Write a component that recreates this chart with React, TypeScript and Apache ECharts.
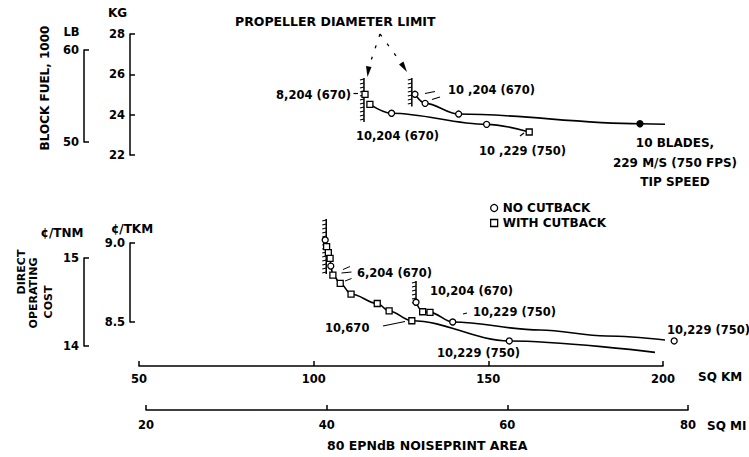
import React, { useEffect, useRef } from "react";
import * as echarts from "echarts";

// ---------- data ----------
// Block fuel panel (x: noiseprint area, sq km; y: block fuel, 1000 kg)
const fuelUpperKm = [129.0, 131.9, 141.5, 193.4, 218.3];
const fuelUpperKg = [25.01, 24.56, 24.03, 23.55, 23.37];
const fuelUpperMark = ["o", "o", "o", "f", ""];
const fuelLowerKm = [116.1, 122.3, 149.5, 161.7];
const fuelLowerKg = [24.51, 24.07, 23.52, 23.14];
const fuelLowerMark = ["s", "o", "o", "s"];
const fuelSingleKm = [114.7];
const fuelSingleKg = [25.01];
const fuelSingleMark = ["s"];
const fuelLimitKm = [114.4, 128.1];
const fuelLimitTop = [25.82, 25.82];
const fuelLimitBottom = [23.64, 24.4];

// Direct operating cost panel (y: cents / TKM)
const docUpperKm = [129.3, 131.2, 133.3, 139.8, 164.8, 183.8, 203.2];
const docUpperVal = [8.625, 8.565, 8.561, 8.5, 8.449, 8.411, 8.38];
const docUpperMark = ["o", "s", "s", "o", "", "", "o"];
const docLowerKm = [103.3, 103.7, 104.2, 104.7, 104.9, 105.5, 107.6, 110.7, 118.2, 121.6, 128.1, 156.0, 197.7];
const docLowerVal = [9.019, 8.977, 8.939, 8.903, 8.854, 8.797, 8.745, 8.677, 8.617, 8.57, 8.508, 8.38, 8.308];
const docLowerMark = ["o", "s", "s", "s", "o", "s", "s", "s", "s", "s", "s", "o", ""];
const docLimitKm = [103.6, 129.3];
const docLimitTop = [9.152, 8.759];
const docLimitBottom = [8.804, 8.614];

// Axis scales
const kmTicks = [50, 200, 50];
const miTicks = [20, 80, 20];
const kgTicks = [22, 28, 2];
const lbTicks = [50, 60, 10];
const tkmTicks = [8.5, 9.0, 0.5];
const tnmTicks = [14, 15, 1];

const FONT = "DejaVu Sans";

const pts = (xs: number[], ys: number[]) => xs.map((x, i) => [x, ys[i]]);
const pick = (xs: number[], ys: number[], marks: string[], m: string) =>
  xs.map((x, i) => (marks[i] === m ? [x, ys[i]] : null)).filter(Boolean);

const axisBase: any = {
  type: "value",
  axisLine: { show: true, lineStyle: { color: "#000", width: 1.5 } },
  axisTick: { show: true, inside: true, length: 5, lineStyle: { color: "#000", width: 1.5 } },
  splitLine: { show: false },
};
const lbl = (margin: number, extra: any = {}) => ({
  color: "#000",
  fontSize: 11.5,
  fontWeight: "bold",
  fontFamily: FONT,
  margin,
  ...extra,
});

const T = (text: string, x: number, y: number, o: any = {}) => ({
  type: "text",
  x,
  y,
  rotation: o.rot || 0,
  silent: true,
  style: {
    text,
    fill: "#000",
    fontSize: o.size || 11.5,
    fontWeight: "bold",
    fontFamily: FONT,
    align: o.align || "left",
    verticalAlign: "middle",
  },
});
const L = (x1: number, y1: number, x2: number, y2: number, w = 1.2, dash?: number[]) => ({
  type: "line",
  silent: true,
  shape: { x1, y1, x2, y2 },
  style: { stroke: "#000", lineWidth: w, lineDash: dash },
});

const hatchRender = (params: any, api: any) => {
  const top = api.coord([api.value(0), api.value(1)]);
  const bot = api.coord([api.value(0), api.value(2)]);
  const children: any[] = [
    { type: "line", shape: { x1: top[0], y1: top[1], x2: bot[0], y2: bot[1] }, style: { stroke: "#000", lineWidth: 1.5 } },
  ];
  for (let y = top[1] + 1; y < bot[1] - 1; y += 4) {
    children.push({
      type: "line",
      shape: { x1: top[0] - 4, y1: y + 1, x2: top[0], y2: y },
      style: { stroke: "#000", lineWidth: 1.1 },
    });
  }
  return { type: "group", children };
};

const lineSeries = (name: string, xi: number, data: any[]) => ({
  name,
  type: "line",
  xAxisIndex: xi,
  yAxisIndex: xi,
  data,
  smooth: 0.35,
  smoothMonotone: "x",
  symbol: "none",
  clip: false,
  silent: true,
  lineStyle: { color: "#000", width: 1.6 },
});
const scatterSeries = (name: string, xi: number, symbol: string, data: any[], fill = "#fff") => ({
  name,
  type: "scatter",
  xAxisIndex: xi,
  yAxisIndex: xi,
  data,
  symbol,
  symbolSize: 6,
  clip: false,
  silent: true,
  z: 5,
  itemStyle: { color: fill, borderColor: "#000", borderWidth: 1.3, opacity: 1 },
});

const option: any = {
  animation: false,
  backgroundColor: "#fff",
  textStyle: { fontFamily: FONT },
  grid: [
    { left: 139, top: 34, width: 524, height: 121, outerBoundsMode: "none" },
    { left: 139, top: 50, width: 524, height: 92, outerBoundsMode: "none" },
    { left: 139, top: 243, width: 524, height: 79, outerBoundsMode: "none" },
    { left: 139, top: 258, width: 524, height: 88, outerBoundsMode: "none" },
    { left: 146, top: 400, width: 542, height: 10, outerBoundsMode: "none" },
  ],
  xAxis: [
    { gridIndex: 0, type: "value", min: kmTicks[0], max: kmTicks[1], show: false },
    { gridIndex: 1, type: "value", min: kmTicks[0], max: kmTicks[1], show: false },
    {
      ...axisBase,
      gridIndex: 2,
      min: kmTicks[0],
      max: kmTicks[1],
      interval: kmTicks[2],
      position: "bottom",
      offset: 44,
      axisLabel: lbl(7),
    },
    { gridIndex: 3, type: "value", min: kmTicks[0], max: kmTicks[1], show: false },
    {
      ...axisBase,
      gridIndex: 4,
      min: miTicks[0],
      max: miTicks[1],
      interval: miTicks[2],
      position: "bottom",
      axisLabel: lbl(9),
    },
  ],
  yAxis: [
    { ...axisBase, gridIndex: 0, min: kgTicks[0], max: kgTicks[1], interval: kgTicks[2], offset: 9, axisLabel: lbl(5) },
    { ...axisBase, gridIndex: 1, min: lbTicks[0], max: lbTicks[1], interval: lbTicks[2], offset: 55, axisLabel: lbl(5) },
    {
      ...axisBase,
      gridIndex: 2,
      min: tkmTicks[0],
      max: tkmTicks[1],
      interval: tkmTicks[2],
      offset: 9,
      axisLabel: lbl(5, { formatter: (v: number) => v.toFixed(1) }),
    },
    { ...axisBase, gridIndex: 3, min: tnmTicks[0], max: tnmTicks[1], interval: tnmTicks[2], offset: 55, axisLabel: lbl(5) },
    { gridIndex: 4, type: "value", min: 0, max: 1, show: false },
  ],
  legend: {
    data: [
      { name: "NO CUTBACK", icon: "circle" },
      { name: "WITH CUTBACK", icon: "rect" },
    ],
    orient: "vertical",
    left: 485,
    top: 197,
    itemWidth: 7,
    itemHeight: 7,
    itemGap: 3,
    selectedMode: false,
    itemStyle: { color: "#fff", borderColor: "#000", borderWidth: 1.3 },
    textStyle: { fontSize: 12, fontWeight: "bold", fontFamily: FONT, color: "#000" },
  },
  series: [
    lineSeries("fuel upper", 0, pts(fuelUpperKm, fuelUpperKg)),
    lineSeries("fuel lower", 0, pts(fuelLowerKm, fuelLowerKg)),
    lineSeries("doc upper", 2, pts(docUpperKm, docUpperVal)),
    lineSeries("doc lower", 2, pts(docLowerKm, docLowerVal)),
    {
      name: "propeller limit fuel",
      type: "custom",
      xAxisIndex: 0,
      yAxisIndex: 0,
      clip: false,
      silent: true,
      renderItem: hatchRender,
      data: fuelLimitKm.map((k, i) => [k, fuelLimitTop[i], fuelLimitBottom[i]]),
    },
    {
      name: "propeller limit doc",
      type: "custom",
      xAxisIndex: 2,
      yAxisIndex: 2,
      clip: false,
      silent: true,
      renderItem: hatchRender,
      data: docLimitKm.map((k, i) => [k, docLimitTop[i], docLimitBottom[i]]),
    },
    scatterSeries("NO CUTBACK", 0, "circle", [
      ...pick(fuelUpperKm, fuelUpperKg, fuelUpperMark, "o"),
      ...pick(fuelLowerKm, fuelLowerKg, fuelLowerMark, "o"),
      ...pick(fuelSingleKm, fuelSingleKg, fuelSingleMark, "o"),
    ]),
    scatterSeries("WITH CUTBACK", 0, "rect", [
      ...pick(fuelUpperKm, fuelUpperKg, fuelUpperMark, "s"),
      ...pick(fuelLowerKm, fuelLowerKg, fuelLowerMark, "s"),
      ...pick(fuelSingleKm, fuelSingleKg, fuelSingleMark, "s"),
    ]),
    scatterSeries("NO CUTBACK", 2, "circle", [
      ...pick(docUpperKm, docUpperVal, docUpperMark, "o"),
      ...pick(docLowerKm, docLowerVal, docLowerMark, "o"),
    ]),
    scatterSeries("WITH CUTBACK", 2, "rect", [
      ...pick(docUpperKm, docUpperVal, docUpperMark, "s"),
      ...pick(docLowerKm, docLowerVal, docLowerMark, "s"),
    ]),
    scatterSeries("10 BLADES", 0, "circle", pick(fuelUpperKm, fuelUpperKg, fuelUpperMark, "f"), "#000"),
    { name: "lb", type: "scatter", xAxisIndex: 1, yAxisIndex: 1, data: [] },
    { name: "tnm", type: "scatter", xAxisIndex: 3, yAxisIndex: 3, data: [] },
    { name: "mi", type: "scatter", xAxisIndex: 4, yAxisIndex: 4, data: [] },
  ],
  graphic: [
    // headings and axis titles
    T("PROPELLER DIAMETER LIMIT", 235, 21, { size: 12.5 }),
    T("KG", 117.5, 13, { size: 12, align: "center" }),
    T("LB", 71.5, 32, { size: 11.5, align: "center" }),
    T("BLOCK FUEL, 1000", 45, 88, { size: 12, align: "center", rot: Math.PI / 2 }),
    T("¢/TNM", 62, 233, { size: 12, align: "center" }),
    T("¢/TKM", 132, 229, { size: 12, align: "center" }),
    T("DIRECT", 21, 272, { size: 11, align: "center", rot: Math.PI / 2 }),
    T("OPERATING", 33.5, 293, { size: 11, align: "center", rot: Math.PI / 2 }),
    T("COST", 48, 302, { size: 11, align: "center", rot: Math.PI / 2 }),
    T("SQ KM", 698, 377, { size: 12 }),
    T("SQ MI", 707, 426, { size: 12 }),
    T("80 EPNdB NOISEPRINT AREA", 327, 445, { size: 12.5 }),
    // propeller limit arrows
    L(380, 34, 368.5, 68, 1.3, [3, 9]),
    L(380, 34, 402, 64, 1.3, [3, 9]),
    { type: "polygon", silent: true, shape: { points: [[366, 66], [371.5, 67], [367.5, 77]] }, style: { fill: "#000" } },
    { type: "polygon", silent: true, shape: { points: [[399, 64.5], [403.5, 61.5], [407, 72]] }, style: { fill: "#000" } },
    // fuel panel labels
    T("8,204 (670)", 351, 95, { align: "right" }),
    L(353.5, 93.5, 358, 93.5),
    T("10 ,204 (670)", 448, 90),
    L(425, 93.5, 435, 91.5),
    L(432, 99.5, 440, 97),
    T("10,204 (670)", 356, 136),
    T("10 ,229 (750)", 479, 151),
    L(520, 136, 524, 133),
    T("10 BLADES,", 675, 143, { size: 12, align: "center" }),
    T("229 M/S (750 FPS)", 675, 163, { size: 12, align: "center" }),
    T("TIP SPEED", 675, 182, { size: 12, align: "center" }),
    // cost panel labels
    T("6,204 (670)", 357, 273),
    L(343, 269.5, 350, 266.5, 1),
    L(341.5, 273, 351.5, 272, 1),
    L(345, 281, 351.5, 278.5, 1),
    T("10,204 (670)", 430, 291),
    T("10,229 (750)", 473, 312),
    L(463, 314, 467, 313),
    T("10,670", 325, 328),
    L(383, 326, 405, 321.5),
    T("10,229 (750)", 437, 353),
    T("10,229 (750)", 667, 330),
  ],
};

export default function App() {
  const ref = useRef<HTMLDivElement>(null);
  useEffect(() => {
    const chart = echarts.init(ref.current!, null, { renderer: "svg" });
    chart.setOption(option);
    return () => chart.dispose();
  }, []);
  return (
    <div
      ref={ref}
      style={{ position: "absolute", left: 0, top: 0, width: 749, height: 457, background: "#fff" }}
    />
  );
}
